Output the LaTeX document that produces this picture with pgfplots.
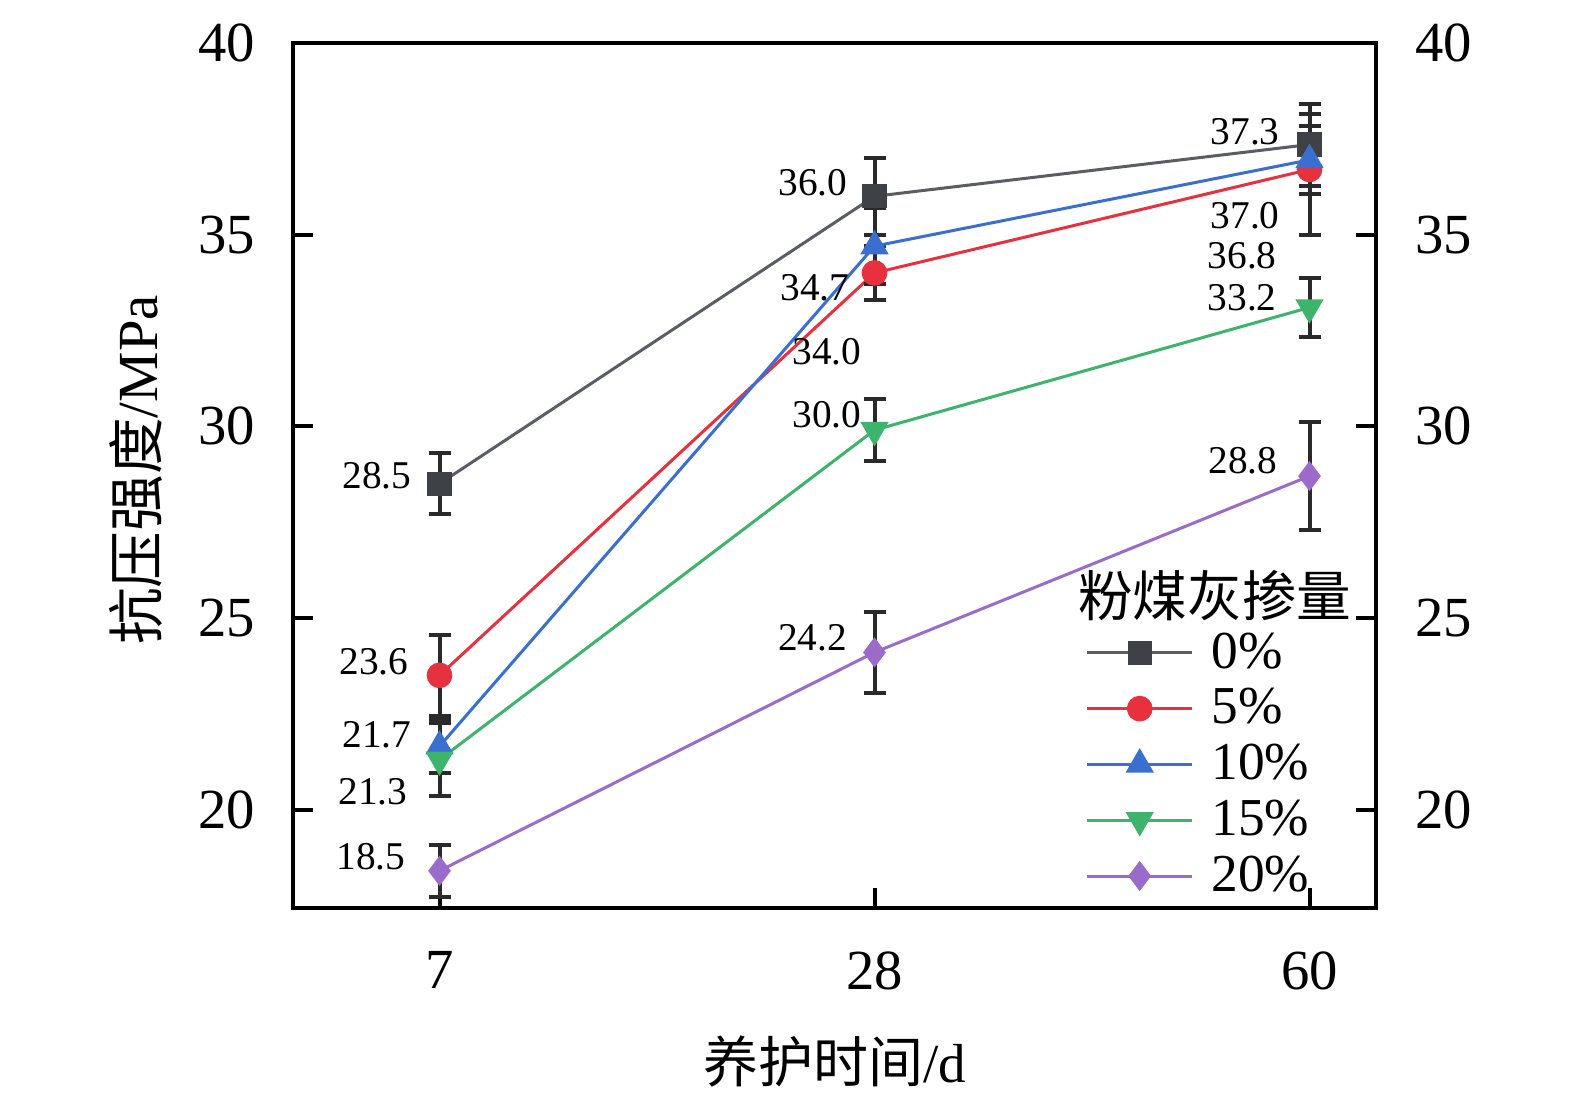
\documentclass[border=0pt]{standalone}
\usepackage{fontspec}
\setmainfont{Liberation Serif}
\newfontfamily\cjk{Noto Sans CJK SC}
\usepackage{pgfplots}
\pgfplotsset{compat=1.18}
\usepackage{pgfplotstable}

\definecolor{c0}{HTML}{5A5D63}
\definecolor{c0m}{HTML}{3E4146}
\definecolor{c1}{HTML}{E8313F}
\definecolor{c2}{HTML}{3A6FD0}
\definecolor{c3}{HTML}{3DB36B}
\definecolor{c4}{HTML}{9B6BC9}
\definecolor{eb}{HTML}{2A2A2A}

\pgfplotstableread{
x y yp ym
0 28.5 0.80 0.80
1 36.0 1.00 1.00
2 37.35 1.07 1.07
}\dataA
\pgfplotstableread{
x y yp ym
0 23.5 1.05 1.05
1 34.0 0.70 0.70
2 36.7 1.44 1.70
}\dataB
\pgfplotstableread{
x y yp ym
0 21.65 0.70 0.70
1 34.7 1.00 1.00
2 36.95 0.88 0.88
}\dataC
\pgfplotstableread{
x y yp ym
0 21.3 0.95 0.95
1 29.9 0.80 0.80
2 33.1 0.77 0.77
}\dataD
\pgfplotstableread{
x y yp ym
0 18.4 0.68 0.68
1 24.1 1.05 1.05
2 28.7 1.41 1.41
}\dataE

\pgfplotsset{
  common/.style={
    width=324.9pt, height=259.5pt, scale only axis,
    xmin=-0.3368, xmax=2.1529, ymin=17.43, ymax=40,
    ytick={20,25,30,35,40},
    tick align=inside, major tick length=6pt,
    axis line style={line width=1.2pt, black},
    tick style={line width=1.2pt, black},
    every tick label/.append style={font=\fontsize{17}{20}\selectfont},
    /pgf/number format/assume math mode=true,
  },
  ser/.style={line width=0.9pt,
    error bars/.cd, y dir=both, y explicit,
    error bar style={eb, line width=1.2pt},
    error mark options={rotate=90, eb, mark size=3.3pt, line width=1.2pt}},
}

\begin{document}
\begin{tikzpicture}
\path[use as bounding box] (-87.9pt,-61.2pt) rectangle (384.6pt,272.4pt);
\begin{axis}[common,
  xtick={0,1,2}, xticklabels={7,28,60},
  xtick pos=bottom, ytick pos=left,
  yticklabel style={xshift=-7.8pt},
  xticklabel style={yshift=-9.6pt},
  xlabel={{\cjk 养护时间}/d},
  ylabel={{\cjk 抗压强度}/MPa},
  xlabel style={font=\fontsize{16.5}{19}\selectfont, at={(axis description cs:0.5,-0.178)}, anchor=center},
  ylabel style={font=\fontsize{17}{20}\selectfont, at={(axis description cs:-0.145,0.5064)}, anchor=center},
  legend style={draw=none, fill=none, at={(rel axis cs:0.7221,0.3346)}, anchor=north west,
    font=\fontsize{16}{19}\selectfont, row sep=0.6pt,
    /tikz/every odd column/.append style={column sep=3.3pt}},
  legend cell align=left,
  legend image code/.code={\draw[mark repeat=2,mark phase=2] plot coordinates {(0pt,0pt)(15.75pt,0pt)(31.5pt,0pt)};},
]
\addplot[c0, mark=square*, mark size=3.2pt, mark options={fill=c0m, draw=c0m}, ser]
  table[x=x, y=y, y error plus=yp, y error minus=ym] {\dataA};
\addlegendentry{0\%}
\addplot[c1, mark=*, mark size=3.4pt, mark options={fill=c1, draw=c1}, ser]
  table[x=x, y=y, y error plus=yp, y error minus=ym] {\dataB};
\addlegendentry{5\%}
\addplot[c2, mark=triangle*, mark size=4pt, mark options={fill=c2, draw=c2}, ser]
  table[x=x, y=y, y error plus=yp, y error minus=ym] {\dataC};
\addlegendentry{10\%}
\addplot[c3, mark=triangle*, mark size=4pt, mark options={fill=c3, draw=c3, rotate=180}, ser]
  table[x=x, y=y, y error plus=yp, y error minus=ym] {\dataD};
\addlegendentry{15\%}
\addplot[c4, mark=diamond*, mark size=3.8pt, mark options={fill=c4, draw=c4}, ser]
  table[x=x, y=y, y error plus=yp, y error minus=ym] {\dataE};
\addlegendentry{20\%}

\node[font=\fontsize{16.4}{19}\selectfont\cjk] at (rel axis cs:0.8513,0.3613) {粉煤灰掺量};

\begin{scope}[every node/.style={font=\fontsize{11.8}{13}\selectfont}]
\node at (axis cs:-0.1437,28.70) {28.5};
\node at (axis cs:-0.1506,23.85) {23.6};
\node at (axis cs:-0.1437,21.95) {21.7};
\node at (axis cs:-0.1529,20.46) {21.3};
\node at (axis cs:-0.1575,18.76) {18.5};
\node at (axis cs:0.8586,36.35) {36.0};
\node at (axis cs:0.8632,33.61) {34.7};
\node at (axis cs:0.8908,31.94) {34.0};
\node at (axis cs:0.8908,30.29) {30.0};
\node at (axis cs:0.8575,24.49) {24.2};
\node at (axis cs:1.852,37.68) {37.3};
\node at (axis cs:1.852,35.49) {37.0};
\node at (axis cs:1.845,34.44) {36.8};
\node at (axis cs:1.845,33.35) {33.2};
\node at (axis cs:1.847,29.09) {28.8};
\end{scope}
\end{axis}
\begin{axis}[common,
  axis x line=none, axis y line*=right,
  yticklabel style={xshift=8.3pt},
]
\addplot[draw=none] coordinates {(0,20)};
\end{axis}
\end{tikzpicture}
\end{document}
